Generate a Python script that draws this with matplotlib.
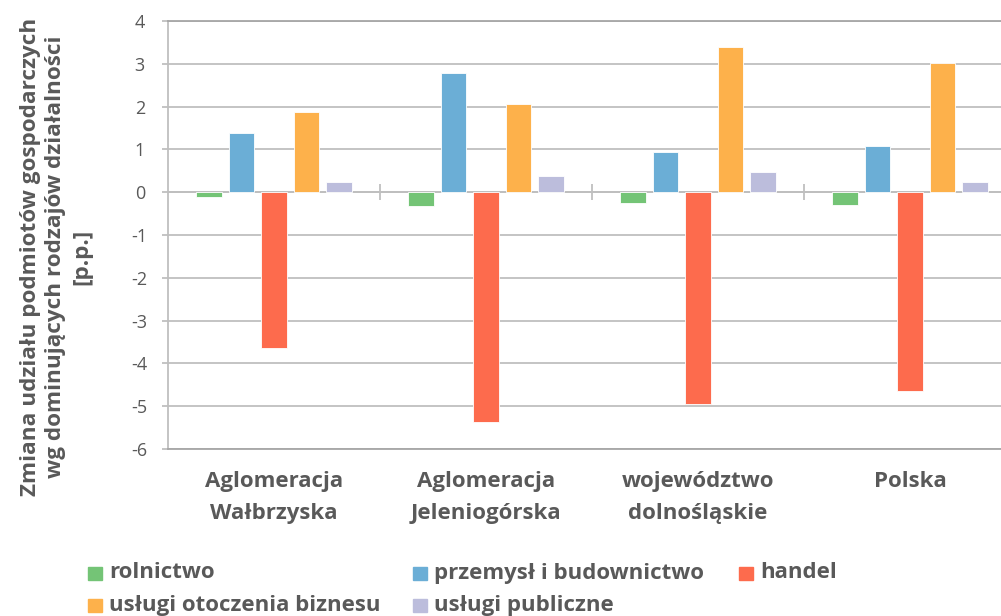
import matplotlib.pyplot as plt
import numpy as np
from matplotlib.patches import Rectangle

plt.rcParams['font.family'] = ['Open Sans', 'DejaVu Sans']

# Dane: zmiana udziału (p.p.) wg rodzaju działalności
regiony = ['Aglomeracja\nWałbrzyska', 'Aglomeracja\nJeleniogórska',
           'województwo\ndolnośląskie', 'Polska']
serie = ['rolnictwo', 'przemysł i budownictwo', 'handel',
         'usługi otoczenia biznesu', 'usługi publiczne']
rolnictwo = [-0.12, -0.33, -0.26, -0.31]
przemysl = [1.38, 2.78, 0.93, 1.07]
handel = [-3.65, -5.37, -4.95, -4.65]
uslugi_biznes = [1.87, 2.06, 3.39, 3.01]
uslugi_publiczne = [0.23, 0.37, 0.47, 0.23]
wartosci = [rolnictwo, przemysl, handel, uslugi_biznes, uslugi_publiczne]
kolory = ['#74c476', '#6baed6', '#fd6b4d', '#fdb14b', '#bcbddc']
y_ticks = [4, 3, 2, 1, 0, -1, -2, -3, -4, -5, -6]

tekst = '#595959'
siatka = '#bfbfbf'

fig = plt.figure(figsize=(10.01, 6.16), dpi=100)
ax = fig.add_axes([168 / 1001, 1 - 449 / 616, 848 / 1001, 428 / 616])

x = np.arange(len(regiony)) + 0.5
krok = 0.153
szer = 0.121
for i, (nazwa, v, c) in enumerate(zip(serie, wartosci, kolory)):
    ax.bar(x + (i - 2) * krok, v, width=szer, color=c, edgecolor='white',
           linewidth=0.6, label=nazwa, zorder=3)

ax.set_xlim(0, len(regiony))
ax.set_ylim(-6, 4)
ax.set_yticks(y_ticks)
ax.set_yticklabels([str(t) for t in y_ticks], ha='center')
ax.yaxis.grid(True, color=siatka, linewidth=1.3, zorder=0)
ax.set_axisbelow(True)

# oś kategorii przy zerze z kreskami podziału
ax.axhline(0, color=siatka, linewidth=1.3, zorder=2)
ax.vlines([1, 2, 3], -0.19, 0.19, color=siatka, linewidth=1.3, zorder=2)

ax.set_xticks(x)
ax.set_xticklabels(regiony, fontsize=16, fontweight='bold', color=tekst,
                   linespacing=1.7)
ax.tick_params(axis='x', length=0, pad=16)
ax.tick_params(axis='y', length=4.3, color=siatka, width=1.3, labelsize=13,
               labelcolor=tekst, pad=16)

for s in ['top', 'bottom']:
    ax.spines[s].set_color('#a6a6a6')
    ax.spines[s].set_linewidth(1.3)
ax.spines['left'].set_color(siatka)
ax.spines['left'].set_linewidth(1.3)
ax.spines['right'].set_visible(False)

fig.text(56 / 1001, 1 - 257 / 616,
         'Zmiana udziału podmiotów gospodarczych\n'
         'wg dominujących rodzajów działalności\n[p.p.]',
         rotation=90, ha='center', va='center', fontsize=16.2,
         fontweight='bold', color=tekst, linespacing=1.3)

# legenda w dwóch wierszach
poz_leg = [(88, 573), (413, 573), (739, 573), (88, 605), (413, 605)]
for (px, py), nazwa, c in zip(poz_leg, serie, kolory):
    fig.patches.append(Rectangle((px / 1001, 1 - (py + 7) / 616), 14 / 1001,
                                 13 / 616, transform=fig.transFigure,
                                 color=c))
    fig.text((px + 21) / 1001, 1 - py / 616, nazwa, ha='left', va='center',
             fontsize=16, fontweight='bold', color=tekst)

fig.savefig('out.png', dpi=100)
